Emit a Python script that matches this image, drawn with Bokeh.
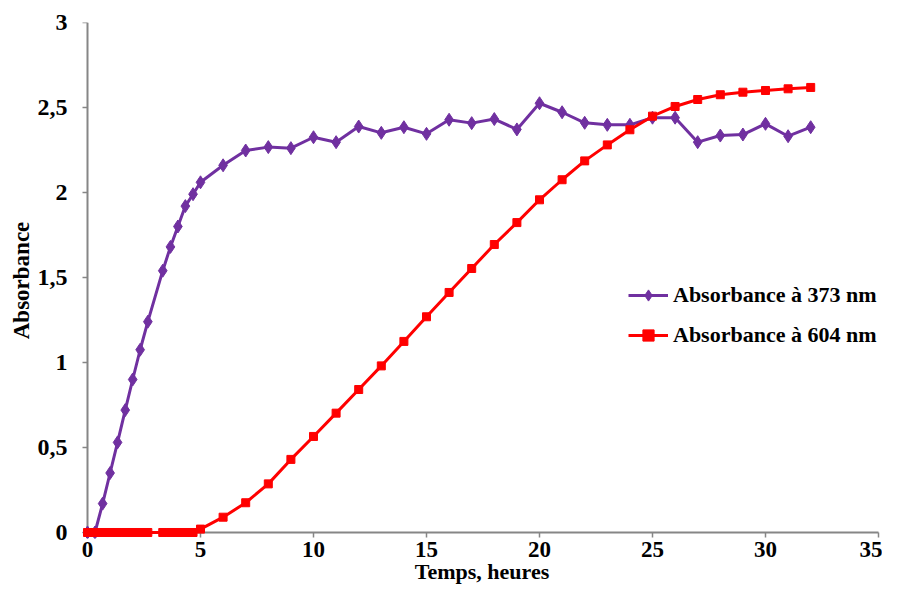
from bokeh.plotting import figure
from bokeh.models import FixedTicker, Range1d, Legend, LegendItem, LinearAxis
from bokeh.embed import file_html
from bokeh.resources import INLINE

# ---- data ----
hours = [0, 0.33, 0.67, 1.0, 1.33, 1.67, 2.0, 2.33, 2.67, 3.33, 3.67, 4.0, 4.33, 4.67, 5,
         6, 7, 8, 9, 10, 11, 12, 13, 14, 15, 16, 17, 18, 19, 20, 21, 22, 23, 24, 25,
         26, 27, 28, 29, 30, 31, 32]

abs_373 = [0, 0, 0.17, 0.35, 0.53, 0.72, 0.90, 1.075, 1.24, 1.54, 1.68, 1.80, 1.92, 1.99, 2.06,
           2.16, 2.247, 2.267, 2.261, 2.325, 2.296, 2.388, 2.351, 2.384, 2.345, 2.428, 2.408,
           2.432, 2.371, 2.525, 2.472, 2.41, 2.398, 2.398, 2.44, 2.44, 2.296, 2.335, 2.341,
           2.404, 2.331, 2.384]

abs_604 = [0, 0, 0, 0, 0, 0, 0, 0, 0, 0, 0, 0, 0, 0, 0.02,
           0.09, 0.175, 0.286, 0.43, 0.565, 0.702, 0.841, 0.98, 1.124, 1.269, 1.412, 1.553,
           1.694, 1.823, 1.957, 2.075, 2.186, 2.28, 2.369, 2.449, 2.506, 2.547, 2.575, 2.59,
           2.60, 2.61, 2.618]

series_names = ["Absorbance à 373 nm", "Absorbance à 604 nm"]
x_ticks = [0, 5, 10, 15, 20, 25, 30, 35]
y_ticks = [0, 0.5, 1, 1.5, 2, 2.5, 3]
y_tick_labels = ["0", "0,5", "1", "1,5", "2", "2,5", "3"]
x_title = "Temps, heures"
y_title = "Absorbance"

PURPLE = "#7030A0"
RED = "#FF0000"
AXIS_GREY = "#868686"
FONT = "Liberation Serif"

# The frame is a little larger than the 0..35 / 0..3 axes so that markers sitting on the
# axes are not clipped and the legend (which sticks out on the right) stays visible.
p = figure(width=882, height=590, output_backend="svg", toolbar_location=None,
           x_range=Range1d(-0.2655, 35.177), y_range=Range1d(-0.0353, 3),
           min_border_left=81, min_border_right=0, min_border_top=22, min_border_bottom=52)
p.outline_line_color = None
p.xgrid.visible = False
p.ygrid.visible = False
p.background_fill_color = "white"
p.border_fill_color = "white"

l1 = p.line(hours, abs_373, line_color=PURPLE, line_width=3)
m1 = p.scatter(hours, abs_373, marker="diamond", size=13, fill_color=PURPLE,
               line_color=PURPLE, line_width=1)
l2 = p.line(hours, abs_604, line_color=RED, line_width=3)
m2 = p.scatter(hours, abs_604, marker="square", size=8, fill_color=RED,
               line_color=RED, line_width=1)

# default axes: only tick labels and titles (at the frame edges)
for ax in (p.xaxis[0], p.yaxis[0]):
    ax.axis_line_color = None
    ax.major_tick_line_color = None
    ax.major_tick_out = 0
    ax.major_tick_in = 0
    ax.minor_tick_line_color = None
    ax.major_label_text_font = FONT
    ax.major_label_text_font_style = "bold"
    ax.major_label_text_color = "black"
    ax.axis_label_text_font = FONT
    ax.axis_label_text_font_style = "bold"
    ax.axis_label_text_color = "black"

p.xaxis.ticker = FixedTicker(ticks=x_ticks)
p.yaxis.ticker = FixedTicker(ticks=y_ticks)
p.yaxis.major_label_overrides = dict(zip(y_ticks, y_tick_labels))
p.xaxis.axis_label = x_title
p.yaxis.axis_label = y_title
p.xaxis.major_label_text_font_size = "23px"
p.yaxis.major_label_text_font_size = "24px"
p.xaxis.axis_label_text_font_size = "22px"
p.yaxis.axis_label_text_font_size = "23px"
p.xaxis.major_label_standoff = 3
p.xaxis.axis_label_standoff = -1
p.yaxis.major_label_standoff = 14
p.yaxis.axis_label_standoff = 1

# axis lines and tick marks pinned at 0, drawn under the data like the original
def rule_axis(ticks, bounds):
    return LinearAxis(fixed_location=0, bounds=bounds, ticker=FixedTicker(ticks=ticks),
                      axis_line_color=AXIS_GREY, axis_line_width=2,
                      major_tick_line_color=AXIS_GREY, major_tick_line_width=1.5,
                      major_tick_out=5, major_tick_in=0, minor_tick_line_color=None,
                      major_label_text_color=None, major_label_text_font_size="0px",
                      level="underlay")

p.add_layout(rule_axis(x_ticks, (0, 35)), "below")
p.add_layout(rule_axis(y_ticks, (0, 3)), "left")

legend = Legend(items=[LegendItem(label=series_names[0], renderers=[l1, m1]),
                       LegendItem(label=series_names[1], renderers=[l2, m2])],
                location=(547, 189), padding=0, margin=0, spacing=12,
                glyph_width=40, glyph_height=28, label_height=28, label_standoff=5,
                border_line_color=None, background_fill_alpha=0,
                label_text_font=FONT, label_text_font_style="bold",
                label_text_font_size="22px", label_text_color="black")
p.add_layout(legend, "center")

open("out.html", "w").write(file_html(p, INLINE))
